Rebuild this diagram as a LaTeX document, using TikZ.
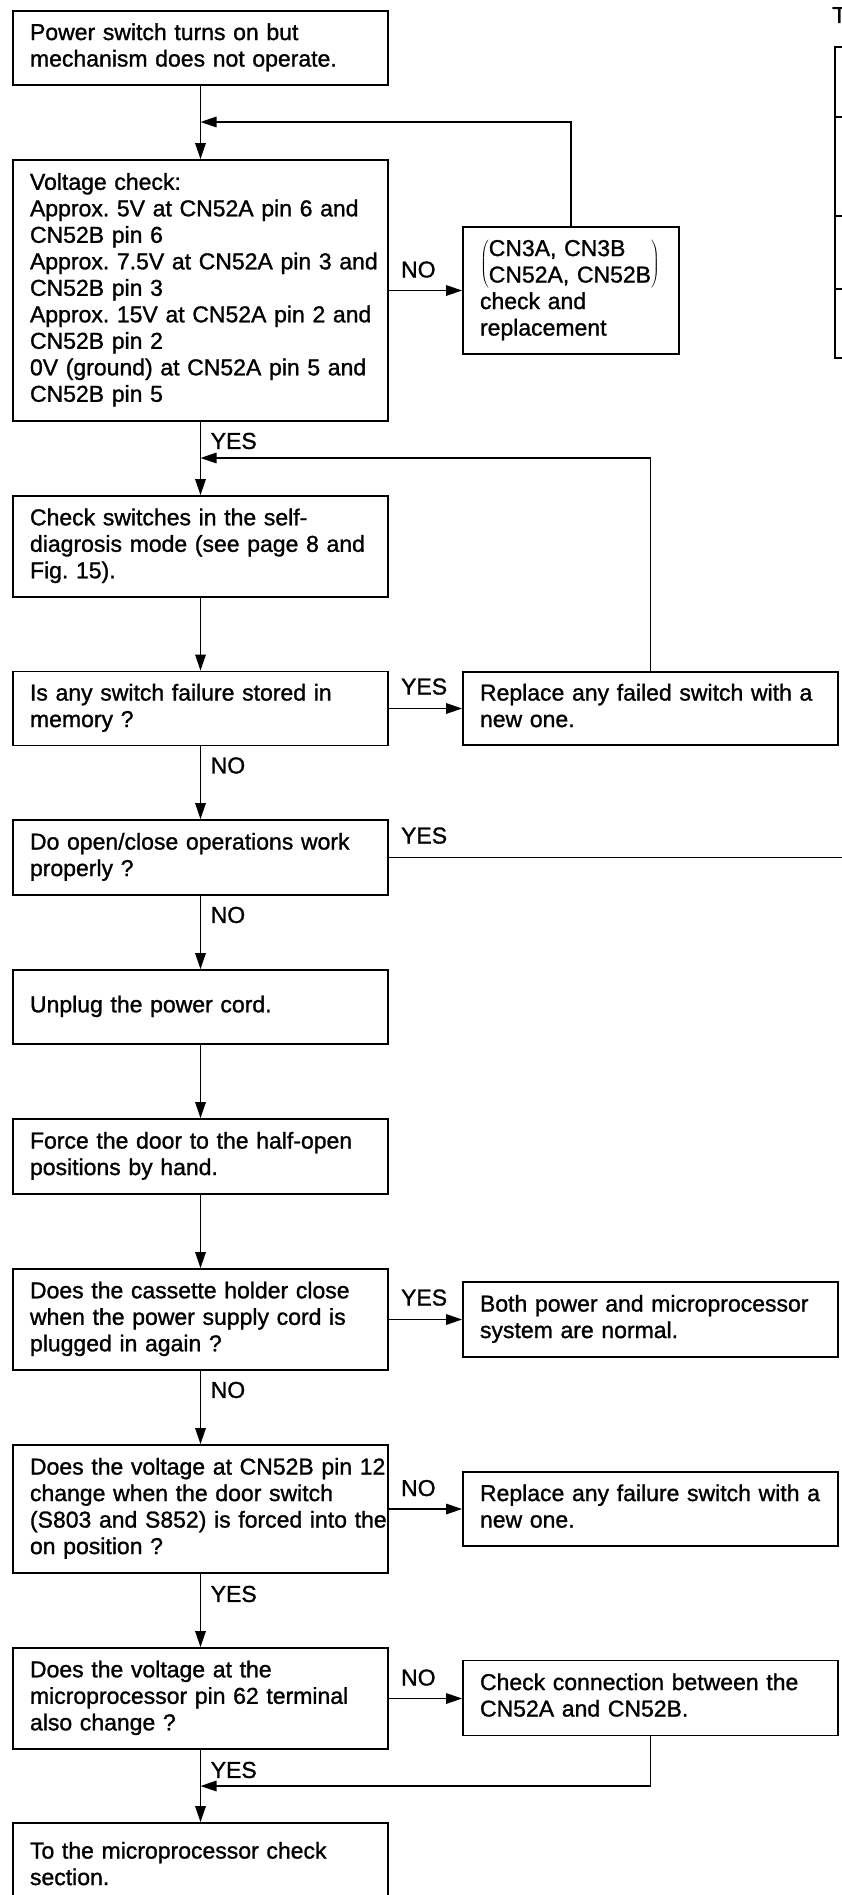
\documentclass[tikz,border=0pt]{standalone}
\usepackage{fontspec}
\setmainfont{Liberation Sans}[FakeBold=1.2]
\usetikzlibrary{arrows.meta}
\newcommand\mlines[1]{\begin{tabular}{@{}l@{}}#1\end{tabular}}
\begin{document}
\begin{tikzpicture}[x=1pt,y=-1pt,
  box/.style={draw, line width=1.8pt, minimum width=375pt, text width=341pt,
    inner xsep=17pt, inner ysep=0pt, align=left,
    font=\fontsize{23}{26.5}\selectfont},
  lbl/.style={inner sep=0pt, font=\fontsize{23}{26.5}\selectfont},
  conn/.style={line width=1.6pt},
  arr/.style={conn, -{Triangle[length=16pt,width=10.5pt]}}]
\useasboundingbox (0,0) rectangle (842,1895);
\clip (0,0) rectangle (842,1895);

% left column
\node[box, minimum height=74pt] (b1) at (200.5,48)
  {\mlines{Power switch turns on but\\mechanism does not operate.}};
\node[box, minimum height=261pt] (b2) at (200.5,290.5)
  {\mlines{Voltage check:\\Approx.\ 5V at CN52A pin 6 and\\CN52B pin 6\\Approx.\ 7.5V at CN52A pin 3 and\\CN52B pin 3\\Approx.\ 15V at CN52A pin 2 and\\CN52B pin 2\\0V (ground) at CN52A pin 5 and\\CN52B pin 5}};
\node[box, minimum height=101pt] (b3) at (200.5,546.5)
  {\mlines{Check switches in the self-\\diagrosis mode (see page 8 and\\Fig.\ 15).}};
\node[box, minimum height=74pt] (b4) at (200.5,708.5)
  {\mlines{Is any switch failure stored in\\memory ?}};
\node[box, minimum height=75pt] (b5) at (200.5,857.5)
  {\mlines{Do open/close operations work\\properly ?}};
\node[box, minimum height=74pt] (b6) at (200.5,1007)
  {\mlines{Unplug the power cord.}};
\node[box, minimum height=75pt] (b7) at (200.5,1156.5)
  {\mlines{Force the door to the half-open\\positions by hand.}};
\node[box, minimum height=101pt] (b8) at (200.5,1319.5)
  {\mlines{Does the cassette holder close\\when the power supply cord is\\plugged in again ?}};
\node[box, minimum height=128pt] (b9) at (200.5,1509)
  {\mlines{Does the voltage at CN52B pin 12\\change when the door switch\\(S803 and S852) is forced into the\\on position ?}};
\node[box, minimum height=101pt] (b10) at (200.5,1698.5)
  {\mlines{Does the voltage at the\\microprocessor pin 62 terminal\\also change ?}};
\node[box, minimum height=87pt] (b11) at (200.5,1866.5)
  {\mlines{To the microprocessor check\\section.}};

% right column
\node[box, minimum width=216pt, text width=182pt, minimum height=127pt] (rn) at (571,290.5)
  {\mlines{$\left(\mlines{CN3A, CN3B\\CN52A, CN52B}\right)$\\check and\\replacement}};
\node[box, minimum height=73pt] (r2) at (650.5,708.5)
  {\mlines{Replace any failed switch with a\\new one.}};
\node[box, minimum height=75pt] (r3) at (650.5,1319.5)
  {\mlines{Both power and microprocessor\\system are normal.}};
\node[box, minimum height=74pt] (r4) at (650.5,1509)
  {\mlines{Replace any failure switch with a\\new one.}};
\node[box, minimum height=75pt] (r5) at (650.5,1698)
  {\mlines{Check connection between the\\CN52A and CN52B.}};

% merge points and free end
\coordinate (m1) at (200.5,122);
\coordinate (m2) at (200.5,458);
\coordinate (m3) at (200.5,1786);
\coordinate (e5) at (846,857.5);

% vertical connectors
\draw[arr] (b1.south) -- (b2.north);
\draw[arr] (b2.south) -- (b3.north);
\draw[arr] (b3.south) -- (b4.north);
\draw[arr] (b4.south) -- (b5.north);
\draw[arr] (b5.south) -- (b6.north);
\draw[arr] (b6.south) -- (b7.north);
\draw[arr] (b7.south) -- (b8.north);
\draw[arr] (b8.south) -- (b9.north);
\draw[arr] (b9.south) -- (b10.north);
\draw[arr] (b10.south) -- (b11.north);

% horizontal connectors
\draw[arr] (b2.east) -- (b2.east -| rn.west);
\draw[arr] (b4.east) -- (b4.east -| r2.west);
\draw[conn] (b5.east) -- (e5);
\draw[arr] (b8.east) -- (b8.east -| r3.west);
\draw[arr] (b9.east) -- (b9.east -| r4.west);
\draw[arr] (b10.east) -- (b10.east -| r5.west);

% return connectors
\draw[arr] (rn.north) |- (m1);
\draw[arr] (r2.north) |- (m2);
\draw[arr] (r5.south) |- (m3);

% labels on vertical connectors
\node[lbl, anchor=base west] (lv2) at ([xshift=10pt,yshift=-27pt]b2.south) {YES};
\node[lbl, anchor=base west] (lv4) at ([xshift=10pt,yshift=-27pt]b4.south) {NO};
\node[lbl, anchor=base west] (lv5) at ([xshift=10pt,yshift=-27pt]b5.south) {NO};
\node[lbl, anchor=base west] (lv8) at ([xshift=10pt,yshift=-27pt]b8.south) {NO};
\node[lbl, anchor=base west] (lv9) at ([xshift=10pt,yshift=-28pt]b9.south) {YES};
\node[lbl, anchor=base west] (lv10) at ([xshift=10pt,yshift=-28pt]b10.south) {YES};

% labels on horizontal connectors
\node[lbl, anchor=base west] (lh2) at ([xshift=12pt,yshift=13pt]b2.east) {NO};
\node[lbl, anchor=base west] (lh4) at ([xshift=12pt,yshift=14pt]b4.east) {YES};
\node[lbl, anchor=base west] (lh5) at ([xshift=12pt,yshift=14pt]b5.east) {YES};
\node[lbl, anchor=base west] (lh8) at ([xshift=12pt,yshift=14pt]b8.east) {YES};
\node[lbl, anchor=base west] (lh9) at ([xshift=12pt,yshift=13pt]b9.east) {NO};
\node[lbl, anchor=base west] (lh10) at ([xshift=12pt,yshift=13pt]b10.east) {NO};

% fragment of a neighbouring table at the right edge
\node[lbl, anchor=base west] (tt) at (832,23) {T};
\draw[conn] (846,47) -- (835,47) -- (835,358) -- (846,358);
\draw[conn] (835,117) -- (846,117);
\draw[conn] (835,216) -- (846,216);
\draw[conn] (835,289) -- (846,289);
\end{tikzpicture}
\end{document}
